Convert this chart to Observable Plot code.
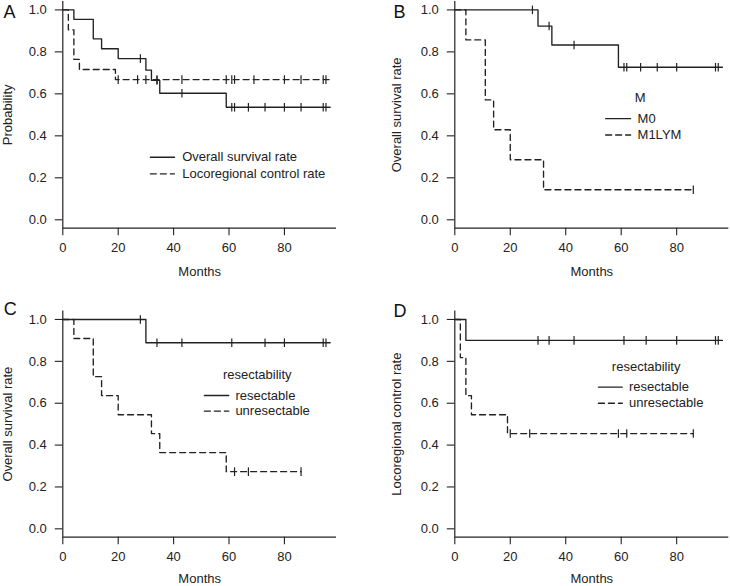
<!DOCTYPE html>
<html><head><meta charset="utf-8">
<script src="https://cdn.jsdelivr.net/npm/d3@7"></script>
<script src="https://cdn.jsdelivr.net/npm/@observablehq/plot@0.6"></script>
<style>
body{margin:0;background:#fff;}
#wrap{position:relative;width:730px;height:586px;overflow:hidden;background:#fff;}
.panel{position:absolute;}
</style></head><body><div id="wrap"></div>
<script>
// ---------- tick labels ----------
const xTicks = [0, 20, 40, 60, 80];
const yTicks = [0, 0.2, 0.4, 0.6, 0.8, 1.0];

// ---------- Panel A ----------
const aOsTimes   = [0, 4, 11, 14, 20, 30, 32, 35, 59];
const aOsSurv    = [1, 0.955, 0.862, 0.815, 0.768, 0.713, 0.664, 0.603, 0.536];
const aOsEnd     = 96.5;
const aOsCensor  = [28, 34, 43, 61, 62, 67, 73, 80, 86, 94, 95];
const aLrcTimes  = [0, 2, 4, 6, 19];
const aLrcSurv   = [1, 0.905, 0.764, 0.716, 0.668];
const aLrcEnd    = 96.5;
const aLrcCensor = [20, 27, 30, 34, 43, 59, 61, 62, 69, 80, 86, 94, 95];

// ---------- Panel B ----------
const bM0Times   = [0, 30, 35, 59];
const bM0Surv    = [1, 0.923, 0.833, 0.727];
const bM0End     = 96.5;
const bM0Censor  = [28, 34, 43, 61, 62, 67, 73, 80, 94, 95];
const bM1Times   = [0, 4, 11, 14, 20, 32];
const bM1Surv    = [1, 0.857, 0.571, 0.429, 0.286, 0.143];
const bM1End     = 86;
const bM1Censor  = [86];

// ---------- Panel C ----------
const cResTimes  = [0, 30];
const cResSurv   = [1, 0.889];
const cResEnd    = 96.5;
const cResCensor = [28, 34, 43, 61, 73, 80, 94, 95];
const cUnTimes   = [0, 4, 11, 14, 20, 32, 35, 59];
const cUnSurv    = [1, 0.909, 0.727, 0.636, 0.545, 0.455, 0.364, 0.273];
const cUnEnd     = 86;
const cUnCensor  = [62, 67, 86];

// ---------- Panel D ----------
const dResTimes  = [0, 4];
const dResSurv   = [1, 0.9];
const dResEnd    = 96.5;
const dResCensor = [30, 34, 43, 61, 69, 80, 94, 95];
const dUnTimes   = [0, 2, 4, 6, 19];
const dUnSurv    = [1, 0.818, 0.636, 0.545, 0.455];
const dUnEnd     = 86;
const dUnCensor  = [20, 27, 59, 62, 86];

// ---------- texts ----------
const panelLetters = ["A", "B", "C", "D"];
const xLabel = "Months";
const yLabels = ["Probability", "Overall survival rate", "Overall survival rate", "Locoregional control rate"];
const legendTitles = [null, "M", "resectability", "resectability"];
const legendItems = [
  ["Overall survival rate", "Locoregional control rate"],
  ["M0", "M1LYM"],
  ["resectable", "unresectable"],
  ["resectable", "unresectable"]
];

// ---------- helpers ----------
const ink = "#222";
const FONT = "'Liberation Sans', Arial, Helvetica, sans-serif";
function steps(times, surv, end) {
  const pts = times.map((t, i) => ({t, s: surv[i]}));
  pts.push({t: end, s: surv[surv.length - 1]});
  return pts;
}
function censorPts(times, surv, cens) {
  return cens.map(c => {
    let s = surv[0];
    for (let i = 0; i < times.length; i++) if (times[i] <= c) s = surv[i];
    return {t: c, s};
  });
}
const vbar = {draw(ctx, size) { const r = Math.sqrt(size / Math.PI); ctx.moveTo(0, -r); ctx.lineTo(0, r); }};
const DASH = "6,4";

const panels = [
  {left: 0, top: 0, h: 290, mt: 1, mb: 62.3, ml: 62.3, mr: 29, xlabDy: 44,
   curves: [[aOsTimes, aOsSurv, aOsEnd, aOsCensor, null], [aLrcTimes, aLrcSurv, aLrcEnd, aLrcCensor, DASH]],
   letter: {dx: -59.3, dy: 10.6}, ylab: {dx: -55},
   leg: {x1: 31.6, x2: 40.3, xt: 43.1, ys: [0.298, 0.219]}},
  {left: 365, top: 0, h: 290, mt: 1, mb: 62.3, ml: 89.3, mr: 1.7, xlabDy: 44,
   curves: [[bM0Times, bM0Surv, bM0End, bM0Censor, null], [bM1Times, bM1Surv, bM1End, bM1Censor, DASH]],
   letter: {dx: -61.3, dy: 10.6}, ylab: {dx: -57.6},
   leg: {x1: 54.4, x2: 63.4, xt: 65.9, ys: [0.482, 0.404], tx: 66.8, ty: 0.582}},
  {left: 0, top: 290, h: 296, mt: 20.6, mb: 49.3, ml: 62.3, mr: 29, xlabDy: 41.5,
   curves: [[cResTimes, cResSurv, cResEnd, cResCensor, null], [cUnTimes, cUnSurv, cUnEnd, cUnCensor, DASH]],
   letter: {dx: -59, dy: -1.6}, ylab: {dx: -55},
   leg: {x1: 51.1, x2: 59.9, xt: 62.3, ys: [0.637, 0.562], tx: 70.2, ty: 0.737}},
  {left: 365, top: 290, h: 296, mt: 20.6, mb: 49.3, ml: 89.3, mr: 1.7, xlabDy: 41.5,
   curves: [[dResTimes, dResSurv, dResEnd, dResCensor, null], [dUnTimes, dUnSurv, dUnEnd, dUnCensor, DASH]],
   letter: {dx: -61.3, dy: 0.4}, ylab: {dx: -57.6},
   leg: {x1: 51.8, x2: 60.4, xt: 62.8, ys: [0.677, 0.600], tx: 69.0, ty: 0.775}}
];

const wrap = document.getElementById("wrap");
panels.forEach((p, k) => {
  const marks = [
    Plot.ruleX([0], {stroke: ink, strokeWidth: 1.2}),
    Plot.ruleY([-0.04], {stroke: ink, strokeWidth: 1.2}),
    Plot.axisX(xTicks, {tickSize: 7.5, tickPadding: 7, fontSize: 13, stroke: ink, fill: ink, strokeWidth: 1.1, label: null, tickFormat: d => String(d)}),
    Plot.axisY(yTicks, {tickSize: 7.5, tickPadding: 8.5, fontSize: 13, stroke: ink, fill: ink, strokeWidth: 1.1, label: null, tickFormat: d3.format(".1f")}),
  ];
  p.curves.forEach(([times, surv, end, cens, dash]) => {
    marks.push(Plot.line(steps(times, surv, end), {x: "t", y: "s", curve: "step-after", stroke: ink, strokeWidth: 1.35, strokeDasharray: dash}));
    marks.push(Plot.dot(censorPts(times, surv, cens), {x: "t", y: "s", r: 4.3, symbol: vbar, stroke: ink, strokeWidth: 1.2, fill: "none"}));
  });
  // legend
  const L = p.leg;
  legendItems[k].forEach((lab, i) => {
    const dash = p.curves[i][4];
    marks.push(Plot.line([{t: L.x1, s: L.ys[i]}, {t: L.x2, s: L.ys[i]}], {x: "t", y: "s", stroke: ink, strokeWidth: 1.35, strokeDasharray: dash}));
    marks.push(Plot.text([lab], {x: () => L.xt, y: () => L.ys[i], text: d => d, textAnchor: "start", fontSize: 13, fill: ink}));
  });
  if (legendTitles[k]) {
    marks.push(Plot.text([legendTitles[k]], {x: () => L.tx, y: () => L.ty, text: d => d, textAnchor: "middle", fontSize: 13, fill: ink}));
  }
  // axis titles & panel letter
  marks.push(Plot.text([xLabel], {frameAnchor: "bottom", lineAnchor: "middle", textAnchor: "middle", dy: p.xlabDy, text: d => d, fontSize: 13, fill: ink}));
  marks.push(Plot.text([yLabels[k]], {frameAnchor: "left", lineAnchor: "middle", textAnchor: "middle", rotate: -90, dx: p.ylab.dx, text: d => d, fontSize: 13, fill: ink}));
  marks.push(Plot.text([panelLetters[k]], {frameAnchor: "top-left", lineAnchor: "middle", textAnchor: "start", dx: p.letter.dx, dy: p.letter.dy, text: d => d, fontSize: 18, fill: "#111"}));

  const chart = Plot.plot({
    width: 365, height: p.h,
    marginTop: p.mt, marginBottom: p.mb, marginLeft: p.ml, marginRight: p.mr,
    x: {domain: [0, 98.8], label: null},
    y: {domain: [-0.04, 1.04], label: null},
    style: {fontFamily: FONT, fontSize: "13px", background: "white", color: ink, overflow: "visible"},
    marks
  });
  const div = document.createElement("div");
  div.className = "panel";
  div.style.left = p.left + "px";
  div.style.top = p.top + "px";
  div.appendChild(chart);
  wrap.appendChild(div);
});
</script></body></html>
